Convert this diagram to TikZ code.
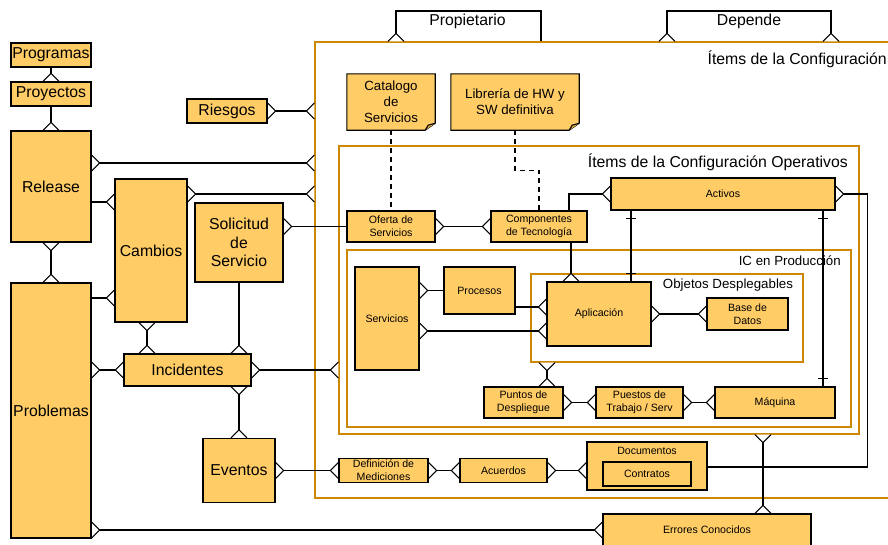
\documentclass[tikz,border=0pt]{standalone}
\usepackage{fontspec}
\setmainfont{Liberation Sans}
\usetikzlibrary{calc}
\definecolor{boxfill}{HTML}{FFCC66}
\definecolor{foldfill}{HTML}{E8B040}
\definecolor{frame}{HTML}{CC8800}
\pgfdeclarelayer{paper}\pgfdeclarelayer{bg}\pgfdeclarelayer{conn}\pgfsetlayers{paper,bg,conn,main}
\newcommand\fbig{\fontsize{15.8}{18.3}\selectfont}
\newcommand\fmid{\fontsize{13.3}{15.8}\selectfont}
\newcommand\fsml{\fontsize{10.6}{13}\selectfont}
% crow's foot ("many" end): base on the given point, apex 8pt away
\newcommand\cfE[1]{\draw[cfoot] ($(#1)+(0,-8)$) -- ($(#1)+(8,0)$) -- ($(#1)+(0,8)$);}
\newcommand\cfW[1]{\draw[cfoot] ($(#1)+(0,-8)$) -- ($(#1)+(-8,0)$) -- ($(#1)+(0,8)$);}
\newcommand\cfN[1]{\draw[cfoot] ($(#1)+(-8,0)$) -- ($(#1)+(0,-8)$) -- ($(#1)+(8,0)$);}
\newcommand\cfS[1]{\draw[cfoot] ($(#1)+(-8,0)$) -- ($(#1)+(0,8)$) -- ($(#1)+(8,0)$);}
% "one" end: short bar across a vertical connector
\newcommand\onebar[1]{\draw[conn] ($(#1)+(-5,0)$) -- ($(#1)+(5,0)$);}
% note sheet with folded lower right corner
\newcommand\notesheet[1]{%
  \draw[notesh] (#1.north west) -- (#1.north east) -- ($(#1.south east)+(0,-7)$)
    -- ($(#1.south east)+(-10,0)$) -- (#1.south west) -- cycle;
  \draw[notesh, fill=foldfill] ($(#1.south east)+(0,-7)$) -- ($(#1.south east)+(-7,-5)$)
    -- ($(#1.south east)+(-10,0)$);}
\tikzset{
  ent/.style={draw, fill=boxfill, line width=1.1pt, inner sep=1pt, align=center, text=black},
  sz/.style 2 args={minimum width=#1pt, minimum height=#2pt},
  container/.style={draw=frame, line width=1.1pt, inner sep=0pt},
  notebox/.style={inner sep=1pt, align=center, font=\fmid},
  notesh/.style={draw, fill=boxfill, line width=1.1pt, line join=miter},
  conn/.style={draw, line width=1.1pt},
  cfoot/.style={draw, fill=white, line width=1.1pt, line join=miter},
  dashconn/.style={draw, line width=1.1pt, dashed, dash pattern=on 5pt off 4pt},
  lbl/.style={inner sep=0pt, text=black},
}
\begin{document}
\begin{tikzpicture}[x=1pt, y=-1pt]
\begin{pgfonlayer}{paper}
\fill[white] (0,0) rectangle (888,544);
\end{pgfonlayer}
\useasboundingbox (0,0) rectangle (888,544);

% containers
\begin{pgfonlayer}{bg}
\node[container, sz={580}{456}] (ci)  at (605,270) {};
\node[container, sz={520}{288}] (ops) at (599,290) {};
\node[container, sz={504}{177}] (icp) at (599,338.5) {};
\node[container, sz={272}{88}]  (obj) at (667,318) {};
\end{pgfonlayer}
\node[lbl, anchor=east, font=\fbig] (ciL)  at (887,59) {Ítems de la Configuración};
\node[lbl, anchor=east, font=\fbig] (opsL) at (848,162) {Ítems de la Configuración Operativos};
\node[lbl, anchor=east, font=\fmid] (icpL) at (841,261) {IC en Producción};
\node[lbl, font=\fmid] (objL) at (728,285.5) {Objetos Desplegables};

% left column
\node[ent, sz={80}{24}, font=\fbig]  (prog)    at (51,55)     {Programas};
\node[ent, sz={80}{24}, font=\fbig]  (proy)    at (51,94)     {Proyectos};
\node[ent, sz={80}{111}, font=\fbig] (release) at (51,186.5)  {Release};
\node[ent, sz={80}{255}, font=\fbig] (prob)    at (51,410.5)  {Problemas};
\node[ent, sz={80}{24}, font=\fbig]  (riesgos) at (227,111)   {Riesgos};
\node[ent, sz={72}{143}, font=\fbig] (cambios) at (151,250.5) {Cambios};
\node[ent, sz={88}{79}, font=\fbig]  (solic)   at (239,242.5) {Solicitud\\de\\Servicio};
\node[ent, sz={127}{32}, font=\fbig] (incid)   at (187.5,370) {Incidentes};
\node[ent, sz={72}{64}, font=\fbig]  (eventos) at (239,470.5) {Eventos};

% bottom row
\node[ent, sz={89}{24}, font=\fsml]  (def)      at (383.5,470.5) {Definición de\\Mediciones};
\node[ent, sz={87}{24}, font=\fsml]  (acuerdos) at (503.5,470.5) {Acuerdos};
\node[ent, sz={120}{48}]             (docs)     at (647,466) {};
\node[lbl, font=\fsml]               (docsL)    at (647,450.5) {Documentos};
\node[ent, sz={88}{24}, font=\fsml]  (contratos) at (647,474) {Contratos};
\node[ent, sz={208}{32}, font=\fsml] (errores)  at (707,530) {Errores Conocidos};

% notes
\node[notebox, sz={88}{56}]  (catalogo) at (391,102) {Catalogo\\de\\Servicios};
\node[notebox, sz={128}{56}] (libreria) at (515,102) {Librería de HW y\\SW definitiva};
\begin{pgfonlayer}{bg}
\notesheet{catalogo}
\notesheet{libreria}
\end{pgfonlayer}

% operational items
\node[ent, sz={88}{31}, font=\fsml]  (oferta)    at (391,226.5) {Oferta de\\Servicios};
\node[ent, sz={96}{31}, font=\fsml]  (comp)      at (539,226.5) {Componentes\\de Tecnología};
\node[ent, sz={224}{32}, font=\fsml] (activos)   at (723,194)   {Activos};
\node[ent, sz={64}{103}, font=\fsml] (servicios) at (387,318.5) {Servicios};
\node[ent, sz={71}{47}, font=\fsml]  (procesos)  at (479.5,290.5) {Procesos};
\node[ent, sz={104}{64}, font=\fsml] (aplic)     at (599,314)   {Aplicación};
\node[ent, sz={81}{32}, font=\fsml]  (bdd)       at (747.5,314) {Base de\\Datos};
\node[ent, sz={79}{31}, font=\fsml]  (puntos)    at (523.5,402.5) {Puntos de\\Despliegue};
\node[ent, sz={87}{31}, font=\fsml]  (puestos)   at (639.5,402.5) {Puestos de\\Trabajo / Serv};
\node[ent, sz={120}{31}, font=\fsml] (maquina)   at (775,402.5) {Máquina};

% relation labels above the items box
\node[lbl, font=\fbig] (propL) at (467.5,21) {Propietario};
\node[lbl, font=\fbig] (depL)  at (749,21)   {Depende};

\begin{pgfonlayer}{conn}
% Programas / Proyectos / Release / Problemas
\draw[conn] (prog.south) -- (proy.north); \cfN{proy.north}
\draw[conn] (proy.south) -- (release.north); \cfN{release.north}
\draw[conn] (release.south) -- (prob.north); \cfS{release.south} \cfN{prob.north}

% links into the configuration items box
\coordinate (riskCI) at (ci.west |- riesgos.east);
\draw[conn] (riesgos.east) -- (riskCI); \cfE{riesgos.east} \cfW{riskCI}
\coordinate (relA) at (release.east |- 0,163);
\coordinate (relB) at (ci.west |- 0,163);
\draw[conn] (relA) -- (relB); \cfE{relA} \cfW{relB}
\coordinate (camA) at (cambios.east |- 0,194);
\coordinate (camB) at (ci.west |- 0,194);
\draw[conn] (camA) -- (camB); \cfE{camA} \cfW{camB}

% Release / Problemas to Cambios
\coordinate (rc1) at (release.east |- 0,202);
\coordinate (rc2) at (cambios.west |- 0,202);
\draw[conn] (rc1) -- (rc2); \cfW{rc2}
\coordinate (pc1) at (prob.east |- 0,298);
\coordinate (pc2) at (cambios.west |- 0,298);
\draw[conn] (pc1) -- (pc2); \cfW{pc2}

% Cambios / Problemas / Solicitud to Incidentes
\coordinate (ci1) at (cambios.south -| 147,0);
\coordinate (ci2) at (incid.north -| 147,0);
\draw[conn] (ci1) -- (ci2); \cfS{ci1} \cfN{ci2}
\coordinate (pi1) at (prob.east |- incid.west);
\draw[conn] (pi1) -- (incid.west); \cfE{pi1} \cfW{incid.west}
\coordinate (si2) at (incid.north -| solic.south);
\draw[conn] (solic.south) -- (si2); \cfN{si2}
\coordinate (io) at (ops.west |- incid.east);
\draw[conn] (incid.east) -- (io); \cfE{incid.east} \cfW{io}

% Solicitud to Oferta de Servicios
\coordinate (so1) at (solic.east |- oferta.west);
\draw[conn] (so1) -- (oferta.west); \cfE{so1}

% Incidentes / Eventos chain
\coordinate (ie1) at (incid.south -| eventos.north);
\draw[conn] (ie1) -- (eventos.north); \cfS{ie1} \cfN{eventos.north}
\draw[conn] (eventos.east) -- (def.west); \cfE{eventos.east} \cfW{def.west}
\draw[conn] (def.east) -- (acuerdos.west); \cfE{def.east} \cfW{acuerdos.west}
\coordinate (ad1) at (docs.west |- acuerdos.east);
\draw[conn] (acuerdos.east) -- (ad1); \cfE{acuerdos.east} \cfW{ad1}

% Activos to Documentos
\coordinate (ad) at ($(activos.east)+(32,0)$);
\coordinate (dd) at (docs.east |- 0,467);
\draw[conn] (activos.east) -- (ad) |- (dd); \cfE{activos.east}

% Problemas to Errores Conocidos, Errores to operational items
\coordinate (pe1) at (prob.east |- errores.west);
\draw[conn] (pe1) -- (errores.west); \cfE{pe1} \cfW{errores.west}
\coordinate (eo1) at (errores.north -| 763,0);
\coordinate (eo2) at (ops.south -| 763,0);
\draw[conn] (eo1) -- (eo2); \cfN{eo1} \cfS{eo2}

% Propietario and Depende brackets
\coordinate (pr1) at (ci.north -| 396,0);
\coordinate (pr2) at (ci.north -| 541,0);
\draw[conn] (pr1) -- (pr1 |- 0,11) -- (pr2 |- 0,11) -- (pr2); \cfN{pr1}
\coordinate (de1) at (ci.north -| 667,0);
\coordinate (de2) at (ci.north -| 831,0);
\draw[conn] (de1) -- (de1 |- 0,11) -- (de2 |- 0,11) -- (de2); \cfN{de1} \cfN{de2}

% notes
\draw[dashconn] (catalogo.south) -- (oferta.north);
\draw[dashconn] (libreria.south) |- ($(comp.north)+(0,-40)$) -| (comp.north);

% operational items
\draw[conn] (oferta.east) -- (comp.west); \cfE{oferta.east} \cfW{comp.west}
\coordinate (ca1) at (comp.north -| 569,0);
\draw[conn] (ca1) |- (activos.west); \cfW{activos.west}
\coordinate (cp1) at (comp.south -| 571,0);
\coordinate (cp2) at (aplic.north -| 571,0);
\draw[conn] (cp1) -- (cp2); \cfN{cp2}
\coordinate (aa1) at (activos.south -| 631,0);
\coordinate (aa2) at (aplic.north -| 631,0);
\draw[conn] (aa1) -- (aa2); \onebar{$(aa1)+(0,8)$} \onebar{$(aa2)+(0,-8)$}
\coordinate (am1) at (activos.south -| 823,0);
\coordinate (am2) at (maquina.north -| 823,0);
\draw[conn] (am1) -- (am2); \onebar{$(am1)+(0,8)$} \onebar{$(am2)+(0,-8)$}

\coordinate (sp1) at (servicios.east |- procesos.west);
\draw[conn] (sp1) -- (procesos.west); \cfE{sp1}
\coordinate (pa1) at (procesos.east |- 0,307);
\coordinate (pa2) at (aplic.west |- 0,307);
\draw[conn] (pa1) -- (pa2); \cfW{pa2}
\coordinate (sa1) at (servicios.east |- 0,331);
\coordinate (sa2) at (aplic.west |- 0,331);
\draw[conn] (sa1) -- (sa2); \cfE{sa1} \cfW{sa2}
\draw[conn] (aplic.east) -- (bdd.west); \cfE{aplic.east} \cfW{bdd.west}

\coordinate (op1) at (obj.south -| 547,0);
\coordinate (op2) at (puntos.north -| 547,0);
\draw[conn] (op1) -- (op2); \cfS{op1} \cfN{op2}
\draw[conn] (puntos.east) -- (puestos.west); \cfE{puntos.east} \cfW{puestos.west}
\draw[conn] (puestos.east) -- (maquina.west); \cfE{puestos.east} \cfW{maquina.west}
\end{pgfonlayer}
\end{tikzpicture}
\end{document}
